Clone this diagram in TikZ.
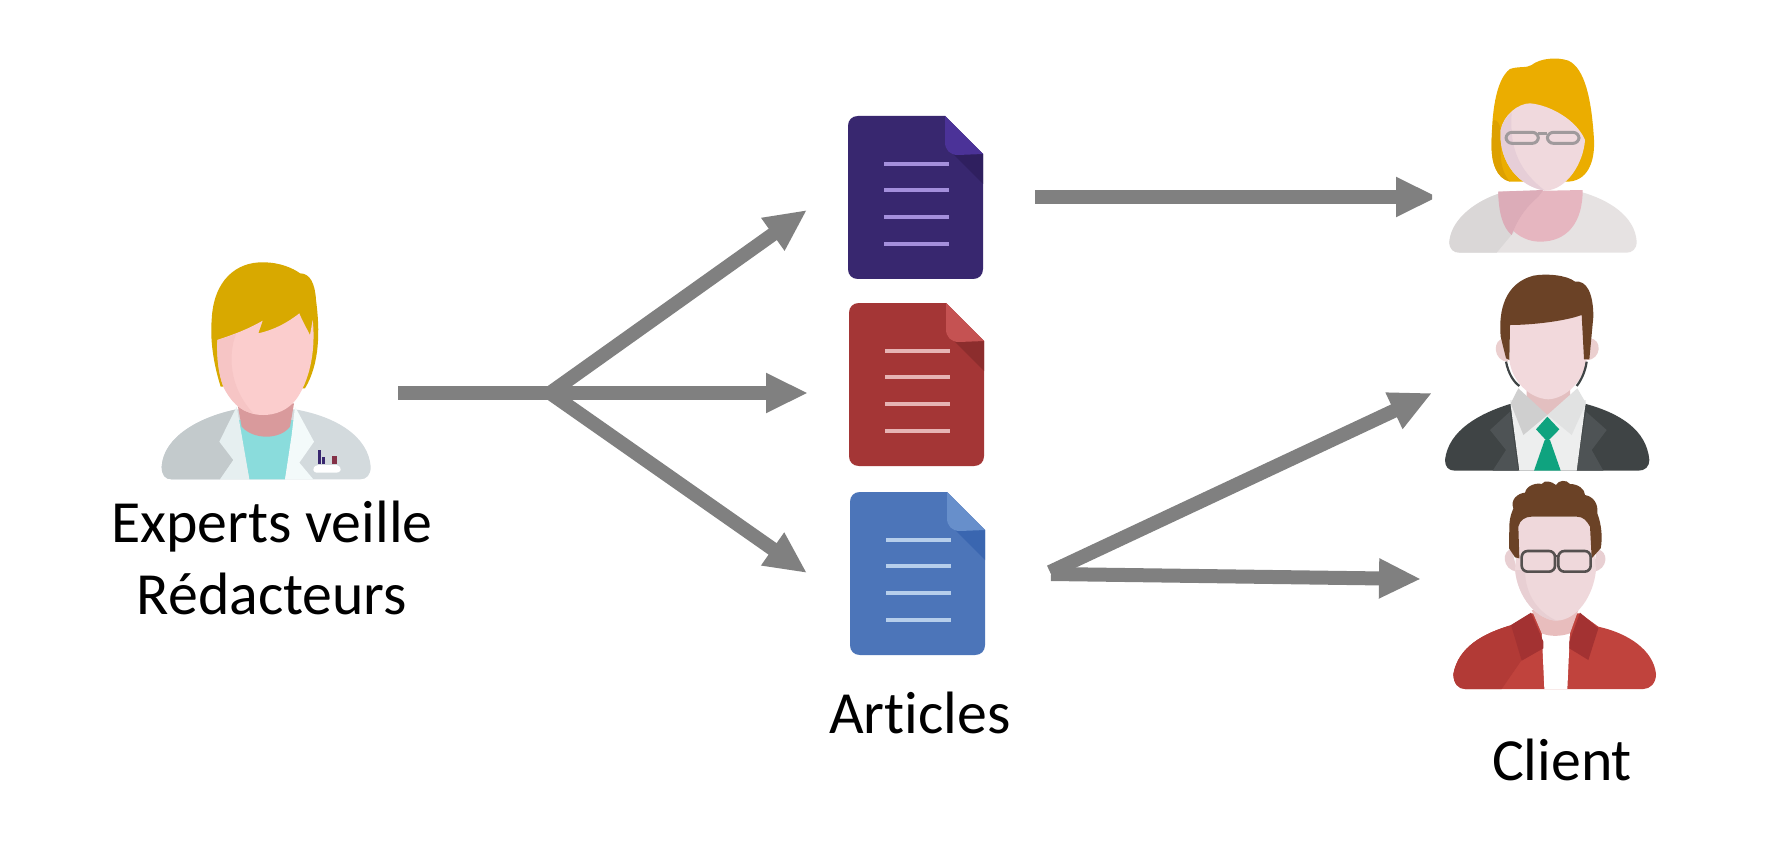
\documentclass[tikz,border=0pt]{standalone}
\usepackage{fontspec}
\setmainfont{Carlito}[Ligatures=NoCommon]
\usetikzlibrary{arrows.meta}
\definecolor{arrowgrey}{HTML}{808080}
\definecolor{pMain}{HTML}{38276F}\definecolor{pFold}{HTML}{4B3298}\definecolor{pShade}{HTML}{2F1F5F}\definecolor{pLine}{HTML}{A48FDC}
\definecolor{rMain}{HTML}{A43636}\definecolor{rFold}{HTML}{C55252}\definecolor{rShade}{HTML}{8C2D2D}\definecolor{rLine}{HTML}{E6B4B4}
\definecolor{bMain}{HTML}{4C75B9}\definecolor{bFold}{HTML}{678FCB}\definecolor{bShade}{HTML}{3A66B0}\definecolor{bLine}{HTML}{B6CEEB}
\definecolor{exHair}{HTML}{D8A900}\definecolor{exFace}{HTML}{FBCDCD}\definecolor{exShade}{HTML}{F6C5C5}\definecolor{exNeck}{HTML}{D99A9C}
\definecolor{exCoatL}{HTML}{C3CACC}\definecolor{exCoatR}{HTML}{D3DADD}\definecolor{exLapel}{HTML}{E6EFF0}\definecolor{exCollar}{HTML}{F3FAFA}\definecolor{exShirt}{HTML}{8ADCDC}
\definecolor{woHair}{HTML}{EBAD00}\definecolor{woHairD}{HTML}{DDA000}\definecolor{woFace}{HTML}{F0D9DD}\definecolor{woShade}{HTML}{E6CED7}\definecolor{woChest}{HTML}{E6B6C0}\definecolor{woChestD}{HTML}{DCACB8}
\definecolor{woBody}{HTML}{E6E2E2}\definecolor{woBodyD}{HTML}{DAD7D7}\definecolor{woGlass}{HTML}{A09A9C}
\definecolor{maHair}{HTML}{6B4226}\definecolor{maFace}{HTML}{F2D9DC}\definecolor{maEar}{HTML}{EBCFCF}\definecolor{maSuit}{HTML}{3F4445}\definecolor{maLapel}{HTML}{4E5355}
\definecolor{maShirt}{HTML}{EDEEEE}\definecolor{maCollar}{HTML}{CFCFCF}\definecolor{maTie}{HTML}{0FA37F}\definecolor{maNeck}{HTML}{E3BFC0}
\definecolor{cuJacket}{HTML}{C0433D}\definecolor{cuJacketD}{HTML}{B23A36}\definecolor{cuCollar}{HTML}{A33232}\definecolor{cuFace}{HTML}{EFD8DB}\definecolor{cuEar}{HTML}{E8CFD2}\definecolor{cuShade}{HTML}{E8CFD3}\definecolor{cuNeck}{HTML}{E8BDBD}\definecolor{cuGlass}{HTML}{55504F}
\tikzset{
  flow/.style={draw=arrowgrey,line width=7pt,-{Triangle[length=21pt,width=18.6pt]}},
  label text/.style={font=\fontsize{29.9pt}{36pt}\selectfont,text=black,anchor=base,inner sep=0pt},
  zoomgrid/.style={x=0.16667pt,y=-0.16667pt},
  docline/.style={line width=1.8pt},
}
\newcommand\docicon[7]{%
  \begin{scope}[shift={(#2,#3)}]
    \node[minimum width=67.5pt,minimum height=81.5pt,inner sep=0pt] (#1) at (67,81) {};
    \fill[#4] (10,0) -- (97,0) -- (135,38) -- (135,153) .. controls (135,159) and (131,163) .. (125,163) -- (10,163) .. controls (4,163) and (0,159) .. (0,153) -- (0,10) .. controls (0,4) and (4,0) .. (10,0) -- cycle;
    \fill[#6] (105,38) -- (135,38) -- (135,68) -- cycle;
    \fill[#5] (97,0) -- (135,38) -- (110,39) .. controls (102,39) and (97,34) .. (97,26) -- cycle;
    \foreach \yy in {48,74,101,128} \draw[#7,docline] (36,\yy) -- (101,\yy);
  \end{scope}}
\begin{document}
\begin{tikzpicture}[x=0.5pt,y=-0.5pt]
\useasboundingbox (0,0) rectangle (1777,845);
\fill[white] (0,0) rectangle (1777,845);

% Expert
\begin{scope}[shift={(130,240)},zoomgrid]
  \fill[exCoatR] (95,680) .. controls (100,590) and (210,530) .. (320,508) -- (495,508) .. controls (620,530) and (715,590) .. (722,680) .. controls (722,705) and (710,718) .. (690,718) -- (125,718) .. controls (105,718) and (95,705) .. (95,680) -- cycle;
  \fill[exCoatL] (95,680) .. controls (100,590) and (210,530) .. (320,508) -- (310,660) -- (270,718) -- (125,718) .. controls (105,718) and (95,705) .. (95,680) -- cycle;
  \fill[exShirt] (325,540) -- (495,540) -- (465,718) -- (358,718) -- cycle;
  \fill[exLapel] (320,500) -- (268,605) -- (310,660) -- (270,718) -- (358,718) -- (335,585) -- cycle;
  \fill[exCollar] (495,500) -- (552,605) -- (508,668) -- (550,718) -- (465,718) -- (485,585) -- cycle;
  \fill[exNeck] (322,490) -- (492,490) -- (480,560) .. controls (450,600) and (370,600) .. (335,560) -- cycle;
  \fill[exHair] (272,440) .. controls (250,370) and (240,300) .. (245,240) .. controls (250,120) and (320,65) .. (400,67) .. controls (450,67) and (490,85) .. (510,100) .. controls (540,100) and (555,130) .. (558,180) .. controls (570,270) and (570,370) .. (525,445) -- cycle;
  \fill[exFace] (262,300) .. controls (305,285) and (350,270) .. (398,242) -- (385,280) .. controls (430,270) and (470,250) .. (508,220) .. controls (518,245) and (530,265) .. (540,285) -- (548,240) .. controls (555,300) and (550,390) .. (510,460) .. controls (480,515) and (430,525) .. (400,525) .. controls (350,525) and (310,500) .. (280,440) .. controls (265,400) and (260,350) .. (262,300) -- cycle;
  \fill[exShade] (262,300) .. controls (280,295) and (300,288) .. (318,282) .. controls (295,340) and (295,440) .. (370,520) .. controls (330,515) and (300,480) .. (280,440) .. controls (265,400) and (260,350) .. (262,300) -- cycle;
  \fill[white] (550,690) .. controls (550,678) and (560,675) .. (570,675) -- (615,675) .. controls (625,675) and (632,680) .. (632,690) .. controls (632,695) and (625,698) .. (615,698) -- (565,698) .. controls (555,698) and (550,695) .. (550,690) -- cycle;
  \fill[pMain] (563,630) rectangle (573,672);
  \fill[pMain] (575,650) rectangle (585,672);
  \fill[rMain!70!pMain] (606,648) rectangle (620,672);
\end{scope}
\node[label text] (expert) at (272,542) {Experts veille};
\node[label text] (redacteurs) at (272,614) {Rédacteurs};

% Documents
\docicon{docA}{848}{116}{pMain}{pFold}{pShade}{pLine}
\docicon{docB}{849}{303}{rMain}{rFold}{rShade}{rLine}
\docicon{docC}{850}{492}{bMain}{bFold}{bShade}{bLine}
\node[label text] (articles) at (920,733) {Articles};

% Woman
\begin{scope}[shift={(1430,40)},zoomgrid]
  \fill[woBody] (58,605) .. controls (65,530) and (150,478) .. (210,460) -- (450,455) .. controls (540,480) and (615,530) .. (620,605) .. controls (620,628) and (605,638) .. (590,638) -- (90,638) .. controls (70,638) and (58,628) .. (58,605) -- cycle;
  \fill[woBodyD] (58,605) .. controls (65,530) and (150,478) .. (210,460) -- (290,530) -- (200,638) -- (90,638) .. controls (70,638) and (58,628) .. (58,605) -- cycle;
  \fill[woChest] (205,455) .. controls (205,550) and (265,605) .. (330,605) .. controls (410,605) and (458,550) .. (458,450) -- cycle;
  \fill[woChestD] (205,455) .. controls (205,520) and (220,565) .. (245,585) .. controls (265,530) and (295,495) .. (325,470) -- (340,450) -- cycle;
  \fill[woHair] (240,425) .. controls (200,415) and (183,370) .. (185,310) .. controls (185,230) and (195,120) .. (240,87) .. controls (265,78) and (290,85) .. (305,75) .. controls (330,55) and (380,50) .. (415,62) .. controls (465,85) and (485,180) .. (492,300) .. controls (495,370) and (470,425) .. (410,425) -- cycle;
  \fill[woHairD] (240,425) .. controls (200,415) and (183,370) .. (185,310) .. controls (185,280) and (187,265) .. (190,240) .. controls (215,240) and (215,280) .. (212,340) .. controls (212,380) and (225,410) .. (240,425) -- cycle;
  \fill[woFace] (212,270) .. controls (220,225) and (265,190) .. (300,190) .. controls (360,195) and (440,240) .. (465,300) .. controls (460,370) and (410,450) .. (345,452) .. controls (270,440) and (205,370) .. (212,270) -- cycle;
  \fill[woShade] (212,270) .. controls (216,250) and (228,232) .. (245,217) .. controls (240,300) and (250,380) .. (345,452) .. controls (270,440) and (205,370) .. (212,270) -- cycle;
  \draw[woGlass,line width=1.5pt,rounded corners=3pt] (228,277) rectangle (325,310);
  \draw[woGlass,line width=1.5pt,rounded corners=3pt] (352,277) rectangle (447,310);
  \draw[woGlass,line width=1.2pt] (325,280) -- (352,280);
\end{scope}

% Man in suit
\begin{scope}[shift={(1430,260)},zoomgrid]
  \fill[maSuit] (45,600) .. controls (55,510) and (150,460) .. (240,432) -- (468,432) .. controls (570,460) and (650,510) .. (658,600) .. controls (658,620) and (645,632) .. (625,632) -- (75,632) .. controls (55,632) and (45,620) .. (45,600) -- cycle;
  \fill[maLapel] (240,455) -- (180,510) -- (228,570) -- (188,632) -- (265,632) -- cycle;
  \fill[maLapel] (468,455) -- (530,510) -- (485,570) -- (520,632) -- (440,632) -- cycle;
  \fill[maShirt] (240,420) -- (468,420) -- (440,632) -- (268,632) -- cycle;
  \fill[maEar] (225,235) .. controls (185,235) and (188,305) .. (235,305) -- cycle;
  \fill[maEar] (478,235) .. controls (518,235) and (515,300) .. (470,300) -- cycle;
  \fill[maNeck] (290,380) -- (420,380) -- (420,420) -- (352,465) -- (290,420) -- cycle;
  \fill[maCollar] (265,385) -- (352,465) -- (280,525) -- (242,430) -- cycle;
  \fill[maCollar!40!maShirt] (442,385) -- (352,465) -- (425,525) -- (468,430) -- cycle;
  \fill[maTie] (352,470) -- (388,508) -- (352,545) -- (318,508) -- cycle;
  \fill[maTie] (344,540) -- (360,540) -- (392,632) -- (312,632) -- cycle;
  \fill[maFace] (240,195) -- (455,165) -- (470,300) .. controls (462,360) and (410,415) .. (355,418) .. controls (295,415) and (245,360) .. (238,300) -- cycle;
  \fill[maHair] (238,300) -- (228,295) -- (212,230) .. controls (205,150) and (225,70) .. (310,47) .. controls (350,40) and (410,45) .. (435,65) .. controls (470,60) and (490,100) .. (490,170) -- (478,298) -- (462,298) -- (455,165) .. controls (400,185) and (300,195) .. (240,195) -- cycle;
  \draw[maSuit,line width=1.1pt] (228,305) .. controls (235,340) and (250,365) .. (268,378);
  \draw[maSuit,line width=1.1pt] (470,305) .. controls (465,340) and (450,365) .. (440,378);
\end{scope}

% Man with glasses
\begin{scope}[shift={(1430,470)},zoomgrid]
  \fill[cuJacket] (70,612) .. controls (85,530) and (160,490) .. (245,465) -- (305,430) -- (450,430) -- (505,470) .. controls (595,490) and (670,540) .. (678,612) .. controls (678,640) and (660,657) .. (640,657) -- (105,657) .. controls (85,657) and (70,640) .. (70,612) -- cycle;
  \fill[cuJacketD] (70,612) .. controls (85,530) and (160,490) .. (245,465) -- (275,570) -- (215,657) -- (105,657) .. controls (85,657) and (70,640) .. (70,612) -- cycle;
  \fill[white] (335,480) -- (420,480) -- (412,657) -- (343,657) -- cycle;
  \fill[cuNeck] (305,420) -- (445,420) -- (420,490) .. controls (390,500) and (360,500) .. (335,490) -- cycle;
  \fill[cuCollar] (303,428) -- (340,515) -- (340,535) -- (275,572) -- (243,465) -- cycle;
  \fill[cuCollar] (450,428) -- (505,475) -- (475,570) -- (418,535) -- (418,515) -- cycle;
  \fill[cuEar] (245,238) .. controls (215,240) and (215,300) .. (262,305) -- cycle;
  \fill[cuEar] (500,238) .. controls (538,240) and (535,300) .. (490,305) -- cycle;
  \fill[cuFace] (265,165) -- (285,140) -- (460,140) -- (485,165) -- (498,300) .. controls (490,380) and (440,450) .. (380,452) .. controls (320,450) and (262,380) .. (255,300) -- cycle;
  \fill[cuShade] (256,300) .. controls (262,380) and (320,450) .. (380,452) .. controls (330,430) and (285,380) .. (285,300) -- cycle;
  \fill[maHair] (268,265) -- (255,262) -- (237,235) -- (238,165) .. controls (240,135) and (247,125) .. (250,115)
     .. controls (240,90) and (262,70) .. (285,68) .. controls (290,45) and (320,38) .. (335,42) .. controls (345,28) and (365,35) .. (378,45)
     .. controls (385,30) and (410,28) .. (420,42) .. controls (445,42) and (465,58) .. (465,75) .. controls (490,80) and (505,100) .. (502,130)
     .. controls (515,165) and (518,205) .. (512,235) -- (485,265) -- (480,170) .. controls (470,152) and (460,140) .. (440,140) -- (305,140) .. controls (285,140) and (270,150) .. (265,170) -- cycle;
  \draw[cuGlass,line width=1.3pt,rounded corners=3pt] (275,243) rectangle (375,305);
  \draw[cuGlass,line width=1.3pt,rounded corners=3pt] (385,243) rectangle (482,305);
  \draw[cuGlass,line width=1.3pt] (375,258) -- (385,258);
\end{scope}
\node[label text] (client) at (1562,780) {Client};

% Connectors
\coordinate (src) at (398,393);
\coordinate (hub) at (550,393);
\coordinate (tipA) at (807,210);
\coordinate (tipB) at (808,393);
\coordinate (tipC) at (807,573);
\coordinate (aStart) at (1035,197);
\coordinate (aEnd) at (1438,197);
\coordinate (cStart) at (1050,572);
\coordinate (cStartB) at (1051,574);
\coordinate (cEndA) at (1432,393);
\coordinate (cEndB) at (1421,579);
\draw[draw=arrowgrey,line width=7pt] (src) -- (hub);
\draw[flow] (hub) -- (tipA);
\draw[flow] (hub) -- (tipB);
\draw[flow] (hub) -- (tipC);
\begin{scope}
  \clip (1000,100) rectangle (1432,300);
  \draw[flow] (aStart) -- (aEnd);
\end{scope}
\draw[flow] (cStart) -- (cEndA);
\draw[flow] (cStartB) -- (cEndB);
\end{tikzpicture}
\end{document}
